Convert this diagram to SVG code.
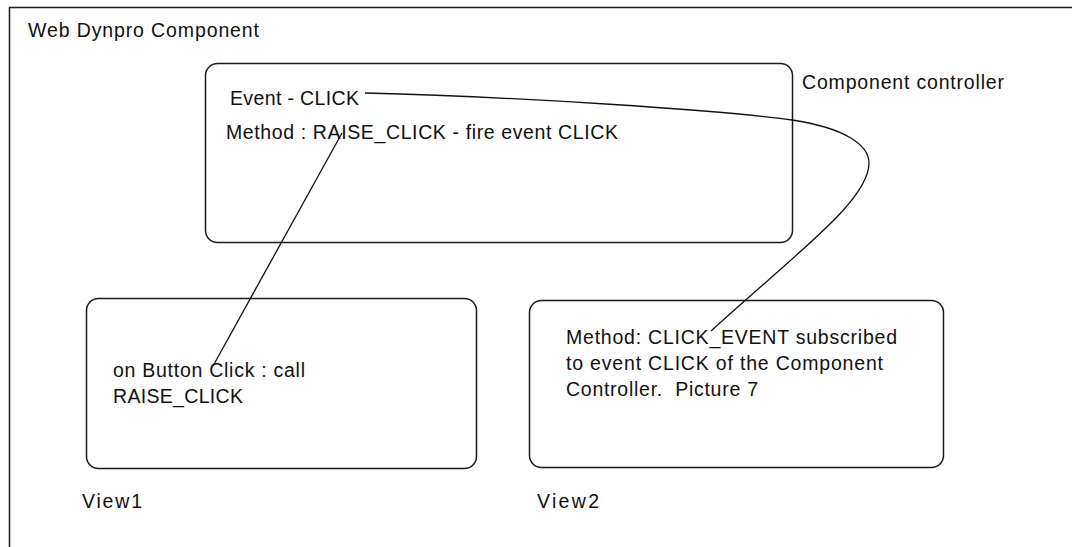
<svg xmlns="http://www.w3.org/2000/svg" width="1072" height="547" viewBox="0 0 1072 547">
<style>
.box{fill:none;stroke:#1a1a1a;stroke-width:1.5}
.t{font-family:"Liberation Sans",Arial,sans-serif;font-size:19.5px;fill:#111}
.c{fill:none;stroke:#111;stroke-width:1.3}
</style>
<rect width="1072" height="547" fill="#fefefe"/>
<g id="frame">
<path class="box" d="M9.5,547 V7.5 H1072"/>
<text class="t" x="28" y="37" textLength="231" lengthAdjust="spacing">Web Dynpro Component</text>
</g>
<g id="component-controller">
<rect class="box" x="205.5" y="63.5" width="587" height="179" rx="12" ry="12"/>
<text class="t" x="230" y="105" textLength="129" lengthAdjust="spacing">Event - CLICK</text>
<text class="t" x="226" y="139" textLength="392" lengthAdjust="spacing">Method : RAISE_CLICK - fire event CLICK</text>
<text class="t" x="802" y="89" textLength="202" lengthAdjust="spacing">Component controller</text>
</g>
<g id="view1">
<rect class="box" x="86.5" y="298.5" width="390" height="170" rx="12" ry="12"/>
<text class="t" x="113" y="377" textLength="192" lengthAdjust="spacing">on Button Click : call</text>
<text class="t" x="113" y="403" textLength="130" lengthAdjust="spacing">RAISE_CLICK</text>
<text class="t" x="82" y="508" textLength="60" lengthAdjust="spacing">View1</text>
</g>
<g id="view2">
<rect class="box" x="529.5" y="300.5" width="414" height="167" rx="12" ry="12"/>
<text class="t" x="566" y="344" textLength="331" lengthAdjust="spacing">Method: CLICK_EVENT subscribed</text>
<text class="t" x="566" y="370" textLength="317" lengthAdjust="spacing">to event CLICK of the Component</text>
<text class="t" x="566" y="396" textLength="192" lengthAdjust="spacing" xml:space="preserve">Controller.  Picture 7</text>
<text class="t" x="537" y="508" textLength="62" lengthAdjust="spacing">View2</text>
</g>
<g id="connectors">
<path class="c" d="M365,93 C520,97 720,110 792,120 C845,128 869,145 869,163 C869,200 800,250 711,331"/>
<path class="c" d="M342,133 L213,366"/>
</g>
</svg>
